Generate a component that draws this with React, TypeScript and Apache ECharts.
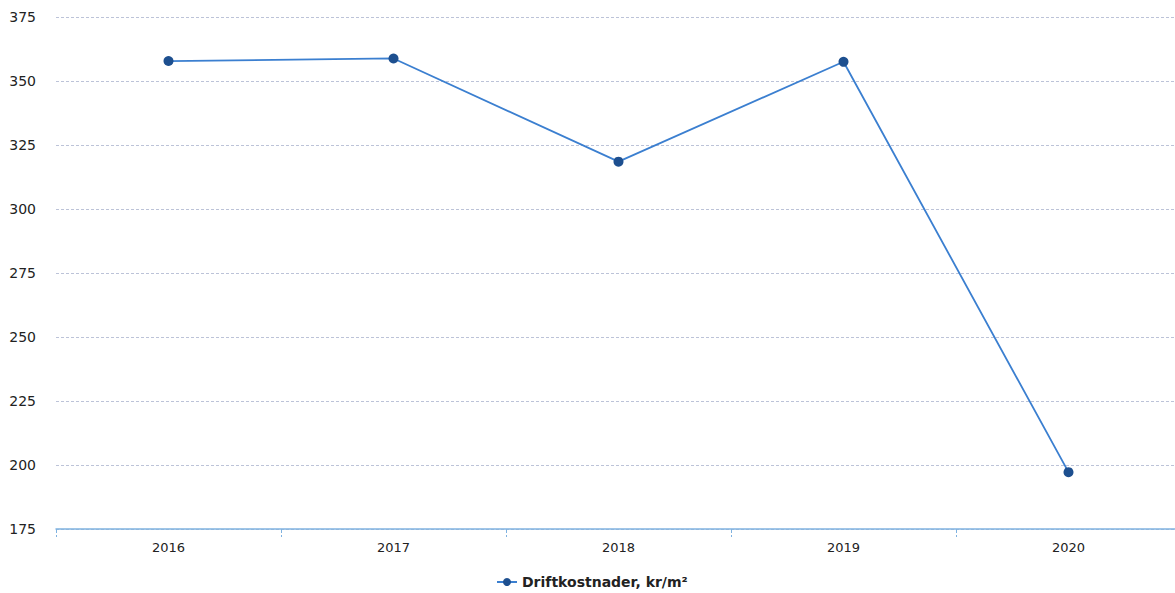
import React, { useEffect, useRef } from "react";
import * as echarts from "echarts";

const categories = ["2016", "2017", "2018", "2019", "2020"];
const values = [357.8, 358.8, 318.5, 357.5, 197.2];
const seriesName = "Driftkostnader, kr/m²";
const yMin = 175;
const yMax = 375;
const yStep = 25;

export default function App() {
  const ref = useRef<HTMLDivElement>(null);
  useEffect(() => {
    if (!ref.current) return;
    const chart = echarts.init(ref.current, undefined, { renderer: "svg" });
    chart.setOption({
      animation: false,
      backgroundColor: "#ffffff",
      textStyle: { fontFamily: "DejaVu Sans" },
      grid: { left: 56, right: 0, top: 17, bottom: 64 },
      legend: {
        top: 575,
        left: 496,
        padding: 0,
        itemWidth: 20,
        itemHeight: 10,
        itemGap: 6,
        textStyle: { fontWeight: "bold", fontSize: 14, color: "#222" },
        data: [{ name: seriesName }],
      },
      xAxis: {
        type: "category",
        data: categories,
        boundaryGap: true,
        axisLine: { lineStyle: { color: "#7fb2e0", width: 1.5 } },
        axisTick: { show: true, length: 8, lineStyle: { color: "#7fb2e0", type: "dashed" } },
        axisLabel: { color: "#222", fontSize: 13, margin: 12 },
      },
      yAxis: {
        type: "value",
        min: yMin,
        max: yMax,
        interval: yStep,
        axisLine: { show: false },
        axisTick: { show: false },
        axisLabel: { color: "#222", fontSize: 14, margin: 20 },
        splitLine: { lineStyle: { color: "#bcc3d8", type: [3, 2], width: 1 } },
      },
      series: [
        {
          name: seriesName,
          type: "line",
          data: values,
          symbol: "circle",
          symbolSize: 10,
          lineStyle: { color: "#3b7fd0", width: 1.8 },
          itemStyle: { color: "#1d4f8f" },
        },
      ],
    });
    return () => chart.dispose();
  }, []);
  return (
    <div style={{ position: "fixed", left: 0, top: 0, width: 1175, height: 593, overflow: "hidden" }}>
      <div ref={ref} style={{ width: 1181, height: 593 }} />
    </div>
  );
}
